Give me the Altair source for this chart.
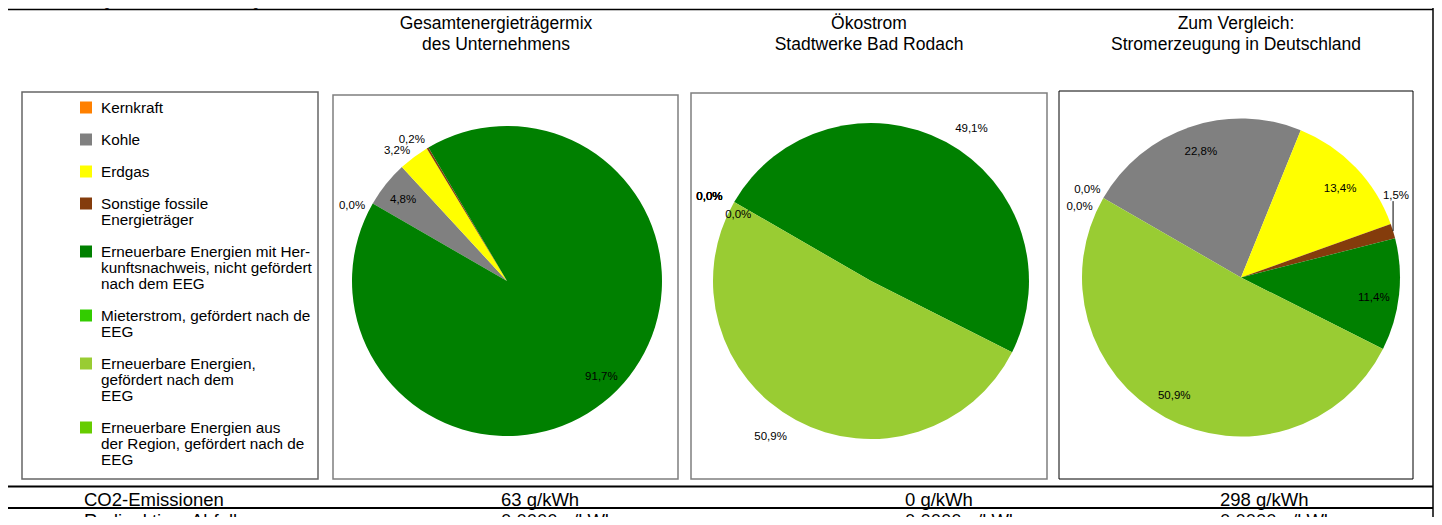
import math
import altair as alt

# ---------------- data ----------------
categories = [
    "Kernkraft",
    "Kohle",
    "Erdgas",
    "Sonstige fossile Energieträger",
    "Erneuerbare Energien mit Herkunftsnachweis, nicht gefördert nach dem EEG",
    "Mieterstrom, gefördert nach dem EEG",
    "Erneuerbare Energien, gefördert nach dem EEG",
    "Erneuerbare Energien aus der Region, gefördert nach dem EEG",
]
legend_lines = [
    ["Kernkraft"],
    ["Kohle"],
    ["Erdgas"],
    ["Sonstige fossile", "Energieträger"],
    ["Erneuerbare Energien mit Her-", "kunftsnachweis, nicht gefördert", "nach dem EEG"],
    ["Mieterstrom, gefördert nach dem", "EEG"],
    ["Erneuerbare Energien,", "gefördert nach dem", "EEG"],
    ["Erneuerbare Energien aus", "der Region, gefördert nach dem", "EEG"],
]
colors = ["#FF8000", "#808080", "#FFFF00", "#843C0C", "#008000", "#33CC00", "#99CC33", "#66CC00"]

# percentages (None = no value / no label)
gesamt = [0.0, 4.8, 3.2, 0.2, 91.7, None, None, None]
oekostrom = [0.0, 0.0, 0.0, 0.0, 49.1, None, 50.9, 0.0]
deutschland = [0.0, 22.8, 13.4, 1.5, 11.4, None, 50.9, 0.0]

pie_titles = [
    ["Gesamtenergieträgermix", "des Unternehmens"],
    ["Ökostrom", "Stadtwerke Bad Rodach"],
    ["Zum Vergleich:", "Stromerzeugung in Deutschland"],
]
note = "Angaben auf der Basis vorläufiger Daten für das Jahr 2024"

table_labels = ["CO2-Emissionen", "Radioaktiver Abfall"]
co2 = [63, 0, 298]          # g/kWh
waste = [0.0, 0.0, 0.0]     # g/kWh

# ---------------- helpers ----------------
FONT = "Liberation Sans"
M = 8  # page margin
W, H = 1426, 509


def p(v):
    return v - M


one = alt.Data(values=[{"k": 0}])
cs = alt.Scale(domain=categories, range=colors)


def rect(x0, y0, x1, y1, stroke, sw):
    return alt.Chart(one).mark_rect(fillOpacity=0, stroke=stroke, strokeWidth=sw).encode(
        x=alt.value(p(x0)), x2=alt.value(p(x1)), y=alt.value(p(y0)), y2=alt.value(p(y1)))


def rule(x0, y0, x1, y1, color, sw):
    return alt.Chart(one).mark_rule(color=color, strokeWidth=sw).encode(
        x=alt.value(p(x0)), x2=alt.value(p(x1)), y=alt.value(p(y0)), y2=alt.value(p(y1)))


START = 5 * math.pi / 3  # first slice starts at -60 degrees


def pie(values, title, cx, cy, R, title_cx, box, r_in, r_out, thr,
        shift_out, zero_r, zero_shift, end_r=None, end_shift=0.0, shift_in=0.0, leader=False):
    rows = [{"cat": c, "idx": i, "v": v}
            for i, (c, v) in enumerate(zip(categories, values)) if v is not None]
    total = sum(r["v"] for r in rows)
    u = total / 360.0
    th = alt.Scale(domain=[0, total], range=[START, START + 2 * math.pi], nice=False, zero=False)
    base = alt.Chart(alt.Data(values=rows)).transform_window(
        end="sum(v)", sort=[alt.SortField("idx", order="ascending")], frame=[None, 0]
    ).transform_calculate(
        start="datum.end - datum.v",
        mid="datum.end - datum.v / 2",
        endzero=f"datum.v == 0 && datum.end >= {total} - 1e-6",
        label="replace(format(datum.v, '.1f'), '.', ',') + '%'",
    ).transform_calculate(
        lt=(f"datum.mid + (datum.v == 0 ? (datum.endzero ? {end_shift * u} : {zero_shift * u})"
            f" : (datum.v < {thr} ? {shift_out * u} : {shift_in * u}))")
    )
    pos = dict(x=alt.value(p(cx)), y=alt.value(p(cy)))
    arcs = base.mark_arc(radius=R).encode(
        theta=alt.Theta("start:Q", scale=th, stack=None),
        theta2="end:Q",
        color=alt.Color("cat:N", scale=cs, legend=None),
        order=alt.Order("idx:Q"),
        **pos,
    )
    tkw = dict(font=FONT, fontSize=11.5, color="#000000", align="center", baseline="middle", dy=2)
    tenc = dict(theta=alt.Theta("lt:Q", scale=th, stack=None), text="label:N", **pos)
    layers = [
        rect(*box),
        arcs,
        base.transform_filter(f"datum.v >= {thr}").mark_text(radius=r_in, **tkw).encode(**tenc),
        base.transform_filter(f"datum.v > 0 && datum.v < {thr}").mark_text(radius=r_out, **tkw).encode(**tenc),
        base.transform_filter("datum.v == 0 && !datum.endzero").mark_text(radius=zero_r, **tkw).encode(**tenc),
        alt.Chart(one).mark_text(font=FONT, fontSize=17.5, lineHeight=21, align="center",
                                 baseline="middle", color="#000000").encode(
            x=alt.value(p(title_cx)), y=alt.value(p(23.5)), text=alt.value(title)),
    ]
    if end_r is not None:
        layers.append(base.transform_filter("datum.endzero").mark_text(radius=end_r, **tkw).encode(**tenc))
    if leader:
        cum = 0.0
        for r in rows:
            if 0 < r["v"] < thr:
                mid = cum + r["v"] / 2
                a = START + mid / total * 2 * math.pi
                a2 = a + math.radians(shift_out)
                rx, ry = cx + R * math.sin(a), cy - R * math.cos(a)
                ly = cy - r_out * math.cos(a2)
                layers.append(rule(rx, ly + 7, rx, ry, "#000000", 1))
            cum += r["v"]
    return alt.layer(*layers)


# ---------------- legend ----------------
item_rows, text_rows = [], []
line_pos = 0
for c, lines in zip(categories, legend_lines):
    item_rows.append({"cat": c, "line": line_pos})
    for j, t in enumerate(lines):
        text_rows.append({"txt": t, "line": line_pos + j})
    line_pos += len(lines) + 1
last_line = item_rows[-1]["line"]
ly = alt.Scale(domain=[0, last_line], range=[p(107.5), p(107.5 + 16 * last_line)], nice=False, zero=False)

legend_sq = alt.Chart(alt.Data(values=item_rows)).mark_square(size=144, opacity=1).encode(
    x=alt.value(p(86)),
    y=alt.Y("line:Q", scale=ly, axis=None),
    color=alt.Color("cat:N", scale=cs, legend=None),
)
legend_txt = alt.Chart(alt.Data(values=text_rows)).mark_text(
    font=FONT, fontSize=15.3, align="left", baseline="middle", color="#000000",
    limit=211, ellipsis="\u200b"
).encode(
    x=alt.value(p(101)),
    y=alt.Y("line:Q", scale=ly, axis=None),
    text="txt:N",
)

# ---------------- table ----------------
tab_rows = []
fmt_rows = [[f"{v} g/kWh" for v in co2],
            [f"{v:.4f}".replace(".", ",") + " g/kWh" for v in waste]]
for r, (lab, vals) in enumerate(zip(table_labels, fmt_rows)):
    tab_rows.append({"row": r, "col": 0, "txt": lab})
    for k, v in enumerate(vals):
        tab_rows.append({"row": r, "col": k + 1, "txt": v})
tx = alt.Scale(domain=[0, 1, 2, 3], range=[p(84), p(501), p(905), p(1220)], nice=False, zero=False)
tyy = alt.Scale(domain=[0, 1], range=[p(500), p(521)], nice=False, zero=False)
table = alt.Chart(alt.Data(values=tab_rows)).mark_text(
    font=FONT, fontSize=18.5, align="left", baseline="middle", color="#000000"
).encode(
    x=alt.X("col:Q", scale=tx, axis=None),
    y=alt.Y("row:Q", scale=tyy, axis=None),
    text="txt:N",
)

note_txt = alt.Chart(one).mark_text(font=FONT, fontSize=12, align="left", baseline="middle",
                                    color="#000000").encode(
    x=alt.value(p(89)), y=alt.value(p(2)), text=alt.value(note))

# ---------------- pies ----------------
pie1 = pie(gesamt, pie_titles[0], 507, 281, 155, 496, (333, 95, 678, 479, "#7f7f7f", 1.5),
           r_in=133, r_out=172, thr=4, shift_out=-2.8, zero_r=173, zero_shift=-3.6)
pie2 = pie(oekostrom, pie_titles[1], 871, 281, 158, 869, (691, 93, 1047, 479, "#7f7f7f", 1.5),
           r_in=134, r_out=184, thr=101, shift_out=4.7, zero_r=183, zero_shift=-2.0,
           end_r=149, end_shift=-3.0)
pie3 = pie(deutschland, pie_titles[2], 1241, 277.5, 159, 1236, (1059, 91, 1413, 479, "#000000", 1),
           r_in=134, r_out=176, thr=4, shift_out=-11.3, zero_r=178, zero_shift=0.3,
           end_r=177, end_shift=-5.8, shift_in=1.5, leader=True)

RX = M + W - 1  # right frame line, kept just inside the drawing
layers = [
    note_txt,
    rule(4, 9.5, RX, 9.5, "#000000", 1.5),
    rule(4.5, 0, 4.5, 525, "#7f7f7f", 1.5),
    rule(RX, 0, RX, 525, "#000000", 1.5),
    rule(4, 486.5, RX, 486.5, "#000000", 2),
    rule(4, 508, RX, 508, "#000000", 2),
    rect(22, 92, 318, 479, "#666666", 1.5),
    legend_sq,
    legend_txt,
    pie1,
    pie2,
    pie3,
    table,
]

chart = alt.layer(*layers).resolve_scale(
    theta="independent", x="independent", y="independent"
).properties(
    width=W, height=H, padding=0, autosize=alt.AutoSizeParams(type="none")
).configure_view(stroke=None)

chart.save("out.html", embed_options={"renderer": "svg", "actions": False})
